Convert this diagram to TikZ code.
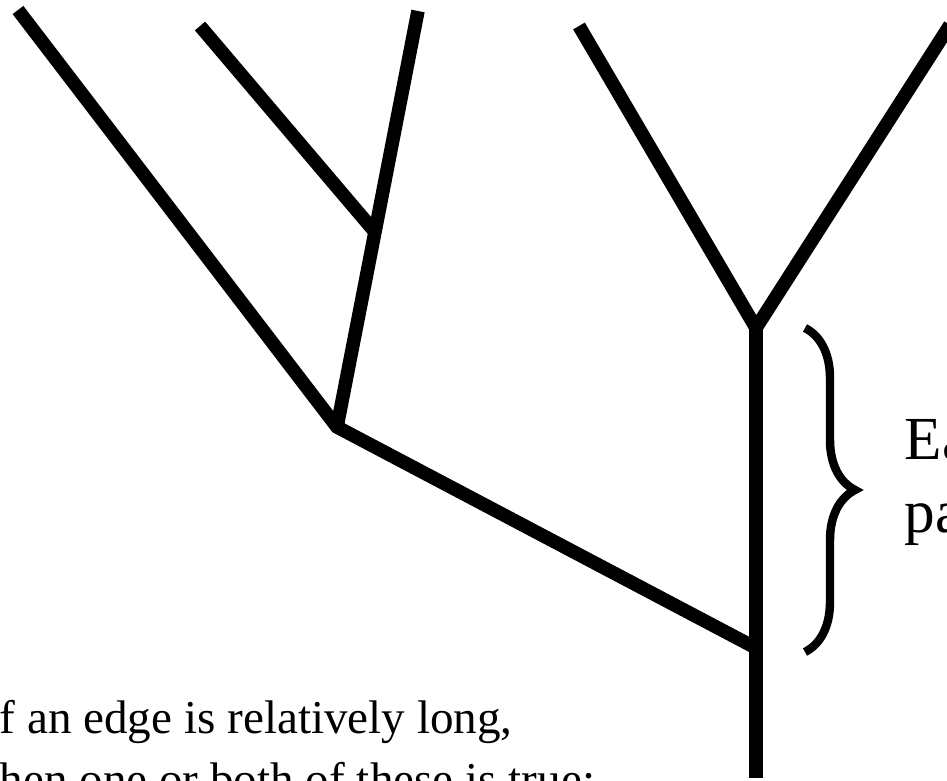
\documentclass[tikz,border=0pt]{standalone}
\usepackage{fontspec}
\setmainfont{Liberation Serif}
\usetikzlibrary{decorations.pathreplacing}

\begin{document}
\begin{tikzpicture}[x=0.01cm, y=-0.01cm,
    branch/.style={line width=0.135cm, line cap=butt, line join=miter},
    note/.style={inner sep=0pt, anchor=base west}]
  \useasboundingbox (0,0) rectangle (947,781);
  \clip (0,0) rectangle (947,781);

  % Tree points
  \coordinate (leafA) at (18,10);
  \coordinate (leafB) at (200,26);
  \coordinate (leafC) at (418,11);
  \coordinate (leafD) at (579,26);
  \coordinate (leafE) at (950,25);
  \coordinate (inner1) at (375,232);
  \coordinate (inner2) at (337,427);
  \coordinate (fork) at (756,328);
  \coordinate (join) at (756,648);
  \coordinate (root) at (756,778);

  % Branches
  \draw[branch] (leafA) -- (inner2) -- (join);
  \draw[branch] (leafC) -- (inner1) -- (inner2);
  \draw[branch] (leafB) -- (inner1);
  \draw[branch] (leafD) -- (fork) -- (leafE);
  \draw[branch] (fork) -- (root);

  % Brace
  \coordinate (braceTop) at (805,328);
  \coordinate (braceBot) at (805,652);
  \draw[line width=2.4pt, decorate, decoration={brace, amplitude=0.5cm}] (braceTop) -- (braceBot);

  % Texts
  \node[note, font=\fontsize{17.4pt}{20.8pt}\selectfont] (ea) at (904,459) {Ea};
  \node[note, font=\fontsize{17.4pt}{20.8pt}\selectfont] (pa) at (904,532) {pa};
  \node[note, font=\fontsize{13.4pt}{17.6pt}\selectfont] (lineA) at (-1,733) {f an edge is relatively long,};
  \node[note, font=\fontsize{13.4pt}{17.6pt}\selectfont] (lineB) at (-1,795) {hen one or both of these is true:};
\end{tikzpicture}
\end{document}
